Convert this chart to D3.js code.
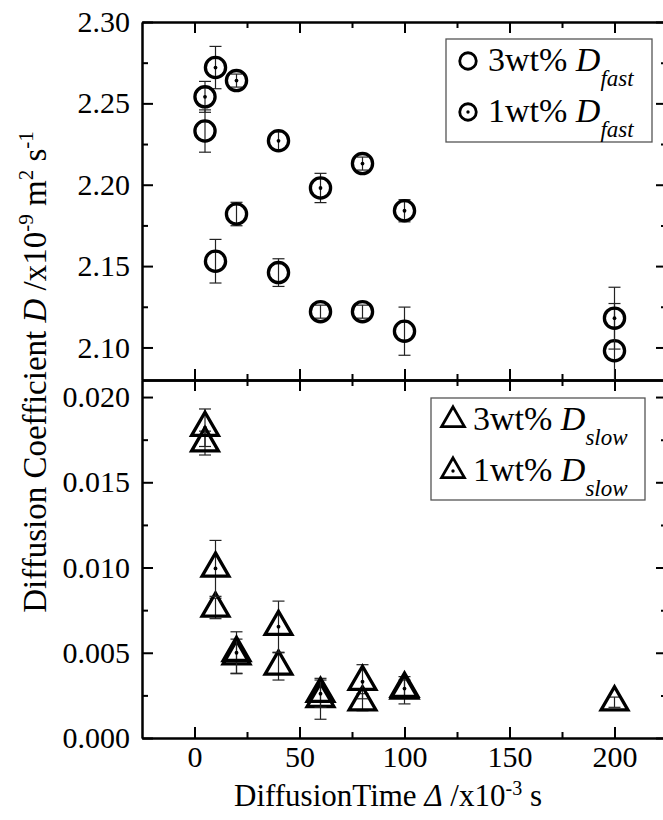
<!DOCTYPE html>
<html>
<head>
<meta charset="utf-8">
<script src="https://cdn.jsdelivr.net/npm/d3@7"></script>
<style>
body { margin: 0; background: #fff; }
svg { display: block; font-family: "Liberation Serif", "Times New Roman", serif; }
</style>
</head>
<body>
<div class="chart"></div>
<script>
// Data
var times = [5, 10, 20, 40, 60, 80, 100, 200];

var fast3 = [2.233, 2.153, 2.182, 2.146, 2.122, 2.122, 2.110, 2.098];
var fast3Err = [0.013, 0.0134, 0.0072, 0.0085, 0.004, 0.004, 0.0148, 0.029];
var fast1 = [2.254, 2.272, 2.264, 2.227, 2.198, 2.213, 2.184, 2.118];
var fast1Err = [0.0095, 0.013, 0.004, 0.0055, 0.009, 0.004, 0.0068, 0.019];

var slow3 = [0.0173, 0.0076, 0.0048, 0.0042, 0.0023, 0.0021, 0.0028, 0.0021];
var slow3Err = [0.0007, 0.0006, 0.001, 0.0008, 0.0012, 0.0005, 0.0008, 0.0003];
var slow1 = [0.0182, 0.00995, 0.0050, 0.00653, 0.0026, 0.0033, 0.0029, null];
var slow1Err = [0.0011, 0.00164, 0.00123, 0.0015, 0.0008, 0.001, 0.0005, null];

var xTicks = [0, 50, 100, 150, 200];
var xMinor = [25, 75, 125, 175];
var topTicks = [2.10, 2.15, 2.20, 2.25, 2.30];
var topMinor = [2.125, 2.175, 2.225, 2.275];
var botTicks = [0, 0.005, 0.010, 0.015, 0.020];
var botMinor = [0.0025, 0.0075, 0.0125, 0.0175];

var svgWidth = 663, svgHeight = 820;
var plotL = 142, plotR = 667, plotT = 22, plotM = 380, plotB = 738;

var svg = d3.select(".chart").append("svg")
    .attr("width", svgWidth)
    .attr("height", svgHeight);

var x = d3.scaleLinear().domain([-25, 225]).range([plotL, plotR]);
var yTop = d3.scaleLinear().domain([2.08, 2.30]).range([plotM, plotT]);
var yBot = d3.scaleLinear().domain([0, 0.021]).range([plotB, plotM]);

// clip paths for the two panels
var defs = svg.append("defs");
defs.append("clipPath").attr("id", "clipTop").append("rect")
    .attr("x", plotL).attr("y", plotT).attr("width", plotR - plotL).attr("height", plotM - plotT);
defs.append("clipPath").attr("id", "clipBot").append("rect")
    .attr("x", plotL).attr("y", plotM).attr("width", plotR - plotL).attr("height", plotB - plotM);

function styleAxis(g) {
    g.select(".domain").attr("stroke", "#000").attr("stroke-width", 2);
    g.selectAll(".tick line").attr("stroke", "#000").attr("stroke-width", 2);
    g.selectAll(".tick text").attr("fill", "#000")
        .style("font-family", "'Liberation Serif', serif").style("font-size", "30px");
}

function drawAxes(y, major, minor, fmt, showX) {
    // left
    var gl = svg.append("g").attr("transform", `translate(${plotL},0)`)
        .call(d3.axisLeft(y).tickValues(major).tickSize(-11).tickSizeOuter(0).tickPadding(12).tickFormat(d3.format(fmt)));
    styleAxis(gl);
    styleAxis(svg.append("g").attr("transform", `translate(${plotL},0)`)
        .call(d3.axisLeft(y).tickValues(minor).tickSize(-6).tickSizeOuter(0).tickFormat("")));
    // right
    styleAxis(svg.append("g").attr("transform", `translate(${plotR},0)`)
        .call(d3.axisRight(y).tickValues(major).tickSize(-11).tickSizeOuter(0).tickFormat("")));
    styleAxis(svg.append("g").attr("transform", `translate(${plotR},0)`)
        .call(d3.axisRight(y).tickValues(minor).tickSize(-6).tickSizeOuter(0).tickFormat("")));
    // top / bottom of this panel
    var y0 = y.range()[0], y1 = y.range()[1];
    styleAxis(svg.append("g").attr("transform", `translate(0,${y1})`)
        .call(d3.axisTop(x).tickValues(xTicks).tickSize(-11).tickSizeOuter(0).tickFormat("")));
    styleAxis(svg.append("g").attr("transform", `translate(0,${y1})`)
        .call(d3.axisTop(x).tickValues(xMinor).tickSize(-6).tickSizeOuter(0).tickFormat("")));
    var gb = svg.append("g").attr("transform", `translate(0,${y0})`)
        .call(d3.axisBottom(x).tickValues(xTicks).tickSize(-11).tickSizeOuter(0).tickPadding(8)
            .tickFormat(showX ? d3.format("d") : ""));
    styleAxis(gb);
    styleAxis(svg.append("g").attr("transform", `translate(0,${y0})`)
        .call(d3.axisBottom(x).tickValues(xMinor).tickSize(-6).tickSizeOuter(0).tickFormat("")));
}

drawAxes(yTop, topTicks, topMinor, ".2f", false);
drawAxes(yBot, botTicks, botMinor, ".3f", true);

var circleSym = d3.symbol().type(d3.symbolCircle).size(320);
var triSym = d3.symbol().type(d3.symbolTriangle).size(310);

function drawSeries(y, vals, errs, sym, dotted, clip) {
    var data = times.map(function (t, i) { return { t: t, v: vals[i], e: errs[i] }; })
        .filter(function (d) { return d.v !== null; });
    var g = svg.append("g").attr("clip-path", `url(#${clip})`);
    var eb = g.selectAll(".eb").data(data).enter().append("g");
    eb.append("line")
        .attr("x1", d => x(d.t)).attr("x2", d => x(d.t))
        .attr("y1", d => y(d.v - d.e)).attr("y2", d => y(d.v + d.e))
        .attr("stroke", "#222").attr("stroke-width", 1.2);
    eb.append("line")
        .attr("x1", d => x(d.t) - 6).attr("x2", d => x(d.t) + 6)
        .attr("y1", d => y(d.v + d.e)).attr("y2", d => y(d.v + d.e))
        .attr("stroke", "#222").attr("stroke-width", 1.2);
    eb.append("line")
        .attr("x1", d => x(d.t) - 6).attr("x2", d => x(d.t) + 6)
        .attr("y1", d => y(d.v - d.e)).attr("y2", d => y(d.v - d.e))
        .attr("stroke", "#222").attr("stroke-width", 1.2);
    g.selectAll(".mk").data(data).enter().append("path")
        .attr("transform", d => `translate(${x(d.t)},${y(d.v)})`)
        .attr("d", sym)
        .attr("fill", "none").attr("stroke", "#000").attr("stroke-width", 3.3);
    if (dotted) {
        g.selectAll(".dot").data(data).enter().append("circle")
            .attr("cx", d => x(d.t)).attr("cy", d => y(d.v)).attr("r", 1.9).attr("fill", "#000");
    }
}

drawSeries(yTop, fast3, fast3Err, circleSym, false, "clipTop");
drawSeries(yTop, fast1, fast1Err, circleSym, true, "clipTop");
drawSeries(yBot, slow3, slow3Err, triSym, false, "clipBot");
drawSeries(yBot, slow1, slow1Err, triSym, true, "clipBot");

// Legends
function legend(x0, y0, w, h, sym, rows, sub) {
    var g = svg.append("g");
    g.append("rect").attr("x", x0).attr("y", y0).attr("width", w).attr("height", h)
        .attr("fill", "#fff").attr("stroke", "#555").attr("stroke-width", 1.3);
    rows.forEach(function (r, i) {
        var cy = y0 + 22 + i * 51;
        g.append("path").attr("transform", `translate(${x0 + 22},${cy})`)
            .attr("d", sym).attr("fill", "none").attr("stroke", "#000").attr("stroke-width", 2.8);
        if (i === 1) g.append("circle").attr("cx", x0 + 22).attr("cy", cy).attr("r", 1.7).attr("fill", "#000");
        var t = g.append("text").attr("x", x0 + 42).attr("y", cy + 10)
            .style("font-size", "34px").attr("fill", "#000");
        t.append("tspan").text(r + " ");
        t.append("tspan").attr("font-style", "italic").text("D");
        t.append("tspan").attr("font-style", "italic").attr("font-size", "23px").attr("dy", 15).text(sub);
    });
}

legend(446, 39, 206, 103, d3.symbol().type(d3.symbolCircle).size(215)(), ["3wt%", "1wt%"], "fast");
legend(431, 398, 214, 102, d3.symbol().type(d3.symbolTriangle).size(225)(), ["3wt%", "1wt%"], "slow");

// Axis titles
var yt = svg.append("text")
    .attr("transform", "translate(46,372) rotate(-90)")
    .attr("text-anchor", "middle")
    .style("font-size", "33px").attr("fill", "#000");
yt.append("tspan").text("Diffusion Coefficient ");
yt.append("tspan").attr("font-style", "italic").text("D");
yt.append("tspan").text(" /x10");
yt.append("tspan").attr("font-size", "21px").attr("dy", -13).text("-9");
yt.append("tspan").attr("dy", 13).text(" m");
yt.append("tspan").attr("font-size", "21px").attr("dy", -13).text("2");
yt.append("tspan").attr("dy", 13).text(" s");
yt.append("tspan").attr("font-size", "21px").attr("dy", -13).text("-1");

var xt = svg.append("text")
    .attr("x", 388).attr("y", 806)
    .attr("text-anchor", "middle")
    .style("font-size", "31px").attr("fill", "#000");
xt.append("tspan").text("DiffusionTime ");
xt.append("tspan").attr("font-style", "italic").text("\u0394");
xt.append("tspan").text(" /x10");
xt.append("tspan").attr("font-size", "20px").attr("dy", -11).text("-3");
xt.append("tspan").attr("dy", 11).text(" s");
</script>
</body>
</html>
